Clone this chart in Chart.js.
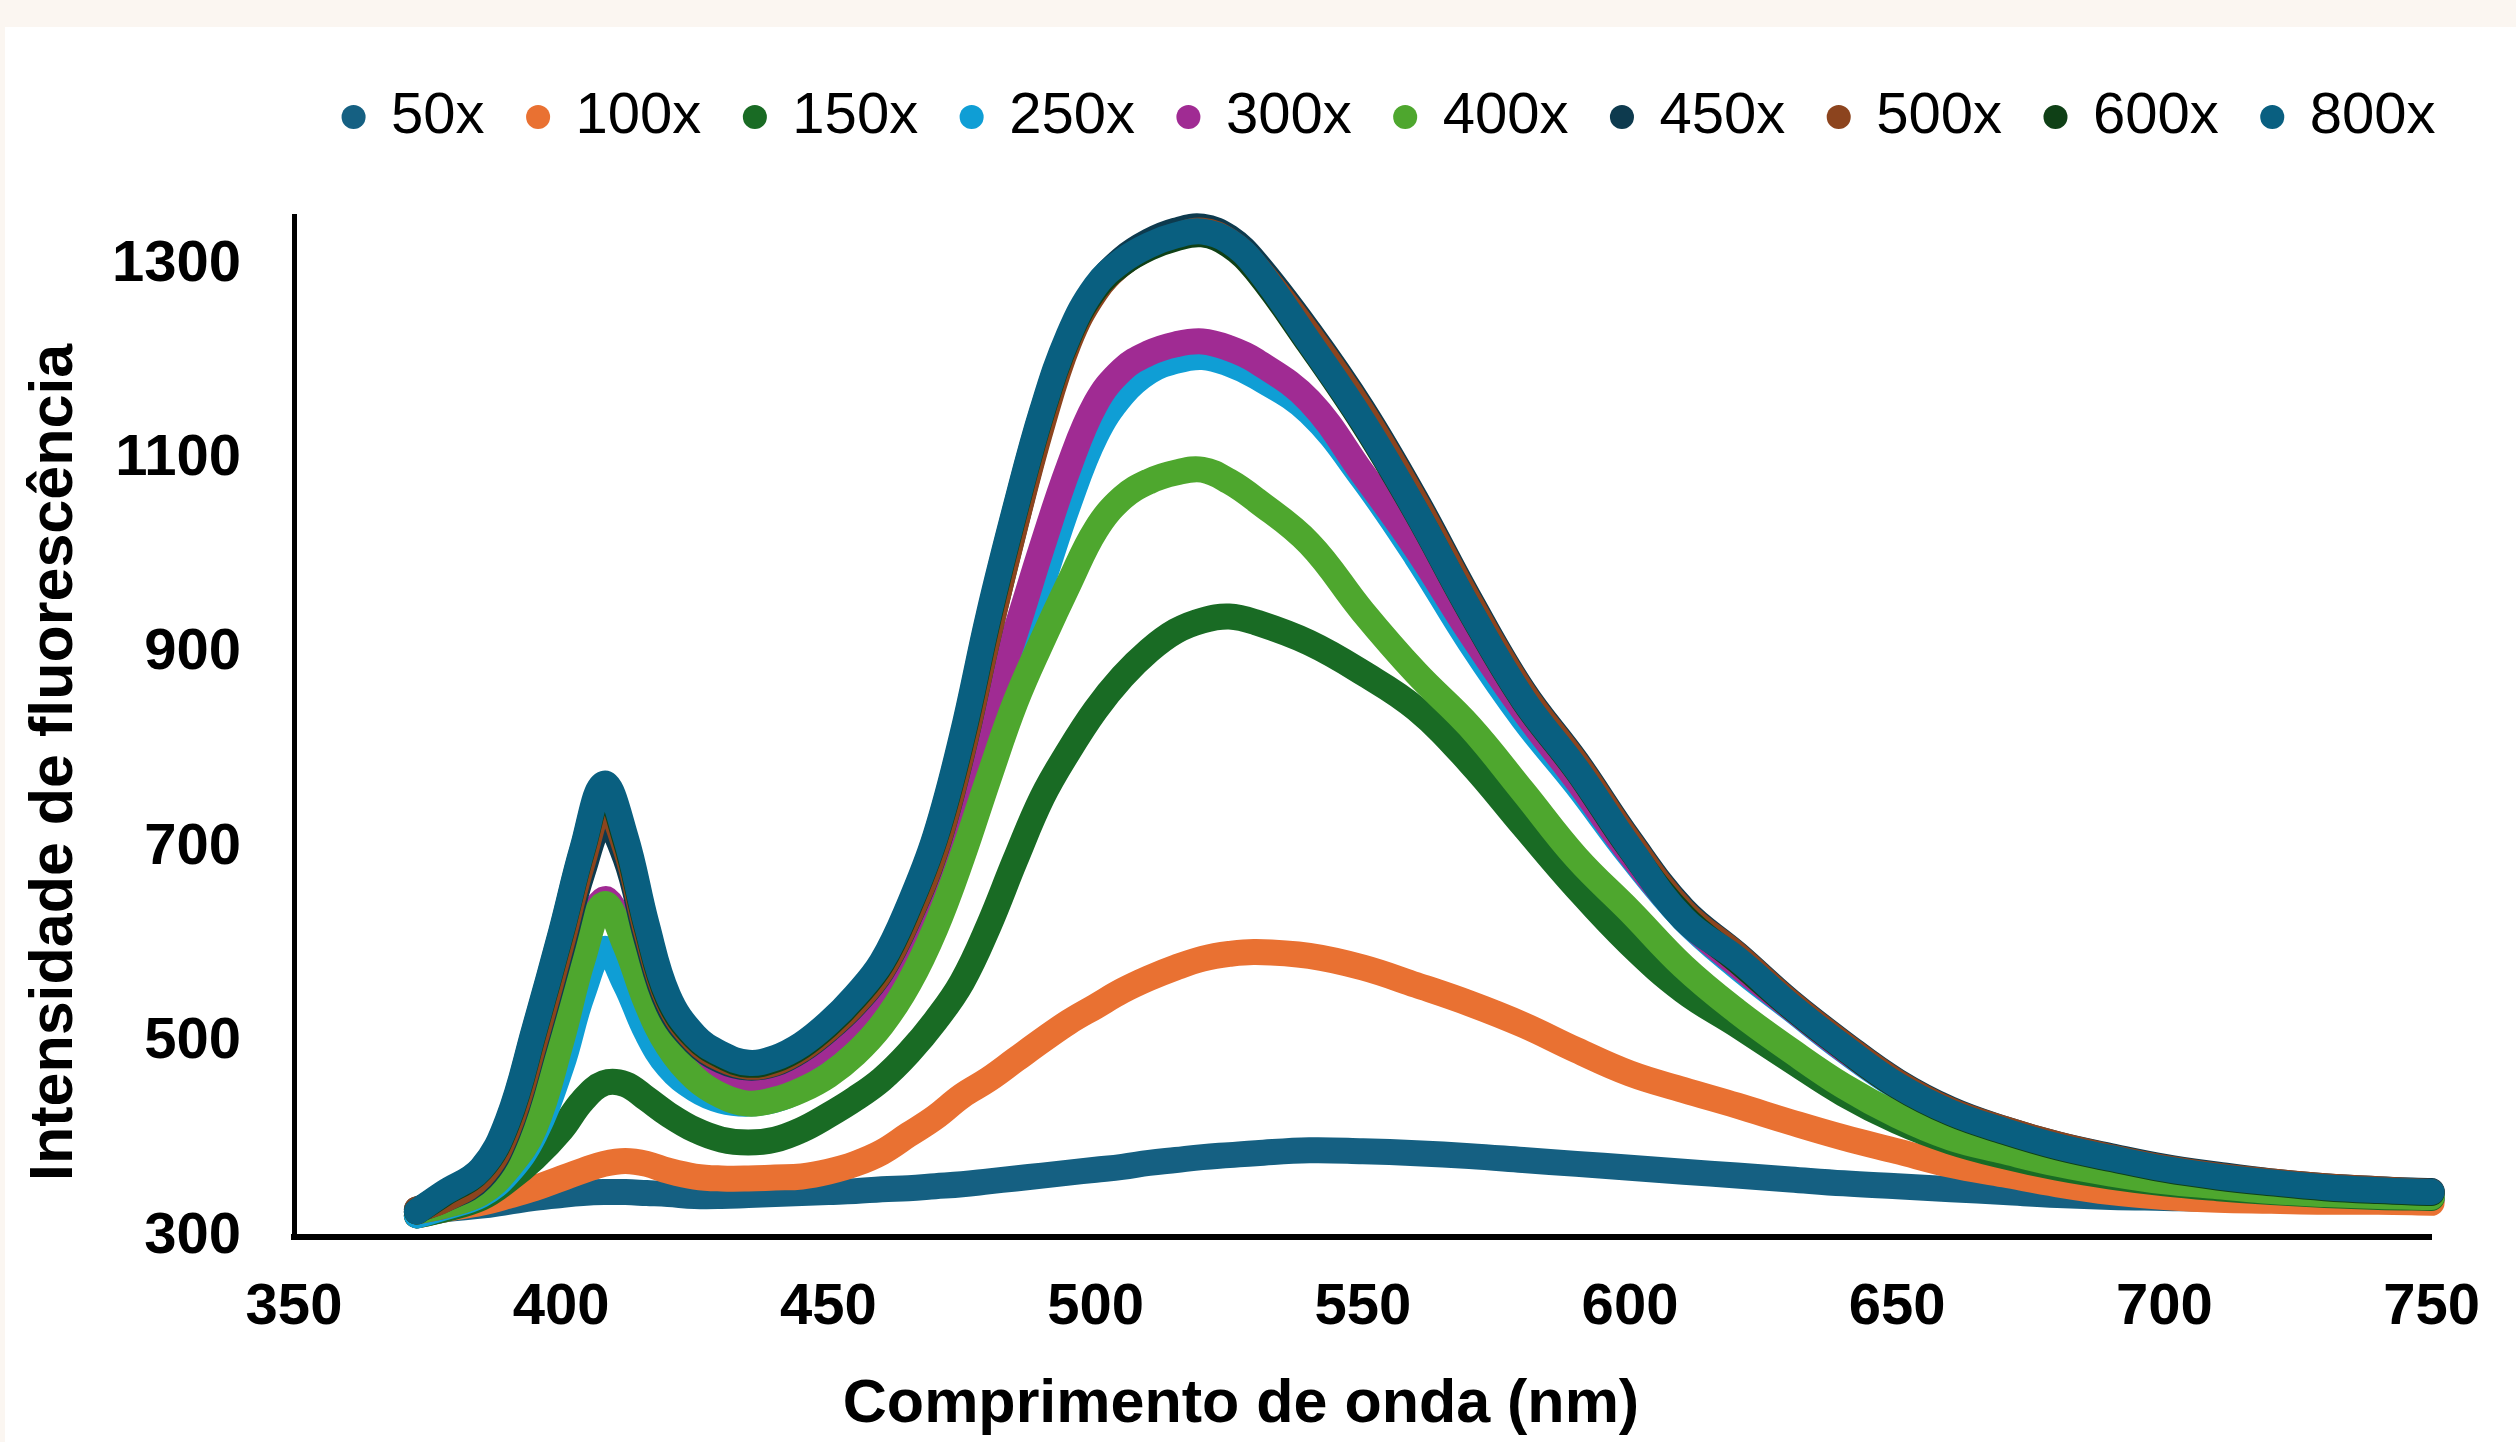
<!DOCTYPE html>
<html>
<head>
<meta charset="utf-8">
<script src="https://cdn.jsdelivr.net/npm/chart.js@4/dist/chart.umd.min.js"></script>
<style>
  html, body { margin: 0; padding: 0; background: #FBF6F1; }
  #box { position: absolute; left: 5px; top: 27px; width: 2511px; height: 1415px; background: #fff; }
</style>
</head>
<body>
<div id="box"><canvas id="chart" width="2511" height="1415"></canvas></div>
<script>
// wavelengths (nm) shared by all series
const wavelengths = [373, 378, 385, 390, 395, 400, 404, 408, 412, 416, 420, 425, 430, 435, 440, 445, 450, 455, 460, 465,
  470, 475, 480, 485, 490, 495, 500, 505, 510, 515, 520, 525, 530, 540, 550, 560, 570, 580, 590, 600,
  610, 620, 630, 640, 650, 660, 670, 680, 690, 700, 710, 720, 730, 740, 750];

// series names, legend order
const seriesNames = ["50x", "100x", "150x", "250x", "300x", "400x", "450x", "500x", "600x", "800x"];
const seriesColors = ["#156082", "#E97132", "#196B24", "#0F9ED5", "#A02B93", "#4EA72E", "#0D3A4E", "#8C441E", "#0F4016", "#095F80"];

// fluorescence intensity
const s50 = [322, 328, 332, 336, 340, 343, 345, 346, 346, 345, 344, 342, 342, 343, 344, 345, 346, 347, 349, 350,
  352, 354, 357, 360, 363, 366, 369, 372, 376, 379, 382, 384, 386, 389, 388, 386, 383, 379, 375, 371,
  367, 363, 359, 355, 352, 349, 346, 343, 341, 340, 339, 339, 338, 338, 338];
const s100 = [322, 328, 335, 342, 350, 360, 368, 375, 378, 375, 368, 362, 360, 360, 361, 362, 367, 375, 387, 405,
  423, 445, 462, 482, 502, 521, 537, 553, 566, 577, 586, 591, 593, 589, 577, 559, 540, 518, 492, 468,
  451, 435, 418, 402, 388, 374, 364, 354, 346, 341, 338, 337, 336, 336, 335];
const s150 = [322, 328, 340, 358, 381, 410, 440, 458, 457, 442, 426, 410, 400, 397, 400, 410, 425, 442, 462, 489,
  522, 562, 620, 688, 752, 800, 842, 876, 903, 923, 934, 938, 932, 911, 880, 843, 788, 723, 659, 601,
  553, 518, 482, 447, 419, 398, 383, 371, 362, 355, 350, 346, 343, 341, 340];
const s250 = [322, 330, 343, 365, 405, 475, 550, 596, 560, 510, 475, 452, 440, 437, 441, 452, 468, 492, 525, 572,
  635, 712, 800, 888, 972, 1055, 1124, 1166, 1190, 1201, 1205, 1198, 1185, 1148, 1080, 1000, 912, 833, 765, 692,
  627, 578, 535, 492, 454, 426, 407, 391, 379, 368, 360, 354, 349, 346, 344];
const s300 = [326, 332, 346, 372, 415, 505, 590, 647, 610, 550, 510, 482, 467, 463, 468, 480, 499, 525, 558, 612,
  680, 758, 840, 922, 1010, 1092, 1157, 1192, 1209, 1218, 1221, 1214, 1201, 1160, 1085, 1008, 922, 842, 770, 694,
  628, 580, 536, 493, 455, 427, 408, 392, 380, 369, 361, 355, 350, 347, 345];
const s400 = [326, 332, 345, 370, 412, 501, 585, 642, 600, 540, 496, 463, 445, 437, 441, 451, 466, 488, 518, 560,
  617, 690, 772, 850, 913, 972, 1027, 1060, 1077, 1086, 1089, 1077, 1058, 1013, 943, 880, 825, 758, 690, 635,
  578, 532, 492, 455, 425, 402, 388, 375, 365, 357, 352, 347, 344, 342, 341];
const s450 = [328, 338, 360, 407, 496, 594, 675, 727, 690, 606, 538, 500, 481, 474, 478, 492, 513, 539, 573, 627,
  696, 797, 920, 1033, 1138, 1224, 1276, 1306, 1324, 1335, 1339, 1328, 1302, 1231, 1151, 1058, 956, 862, 789, 708,
  637, 591, 542, 499, 460, 431, 411, 395, 383, 372, 364, 357, 352, 349, 347];
const s500 = [328, 338, 362, 410, 500, 600, 685, 745, 700, 612, 542, 502, 483, 475, 479, 493, 514, 540, 574, 628,
  697, 798, 920, 1032, 1135, 1220, 1272, 1301, 1318, 1329, 1335, 1324, 1298, 1228, 1148, 1055, 953, 860, 787, 706,
  635, 590, 541, 498, 459, 430, 411, 395, 382, 371, 363, 357, 352, 349, 346];
const s600 = [326, 344, 369, 418, 512, 612, 698, 762, 708, 618, 545, 505, 486, 477, 482, 496, 518, 546, 581, 638,
  710, 812, 937, 1048, 1148, 1226, 1275, 1301, 1317, 1327, 1331, 1320, 1294, 1218, 1137, 1045, 944, 852, 780, 699,
  630, 584, 537, 494, 455, 427, 408, 392, 380, 369, 361, 355, 350, 347, 345];
const s800 = [326, 345, 370, 420, 514, 614, 700, 766, 712, 621, 548, 507, 488, 479, 484, 498, 520, 548, 583, 640,
  712, 815, 940, 1050, 1150, 1228, 1278, 1304, 1320, 1330, 1334, 1324, 1298, 1220, 1139, 1046, 945, 853, 781, 700,
  627, 586, 538, 495, 456, 428, 409, 393, 381, 370, 362, 356, 351, 348, 346];

const seriesValues = [s50, s100, s150, s250, s300, s400, s450, s500, s600, s800];

// y ticks to show
const yTicks = [300, 500, 700, 900, 1100, 1300];

Chart.defaults.font.family = "'Liberation Sans', Arial, sans-serif";
Chart.defaults.color = "#000";

const datasets = seriesNames.map((name, k) => ({
  label: name,
  data: wavelengths.map((w, i) => ({ x: w, y: seriesValues[k][i] })),
  borderColor: seriesColors[k],
  backgroundColor: seriesColors[k],
  borderWidth: 26,
  borderCapStyle: "round",
  borderJoinStyle: "round",
  tension: 0.4,
  pointRadius: 0,
  pointHoverRadius: 0,
  clip: false,
  //later series painted on top, like the spreadsheet
  order: seriesNames.length - k,
}));

//legend on one row with room below it, titles nudged like the original
const layoutTweak = {
  id: "layoutTweak",
  beforeInit(chart) {
    if (!chart.legend) return;
    const fit = chart.legend.fit;
    chart.legend.fit = function () {
      const mw = this.maxWidth;
      this.maxWidth = mw + 150;
      fit.call(this);
      this.maxWidth = mw;
      this.width = mw;
      this.height += 60;
    };
  },
  afterLayout(chart) {
    if (chart.legend) {
      chart.legend.left += 5;
      chart.legend.right += 50;
    }
    if (chart.titleBlock) chart.titleBlock.left += 21;
    const y = chart.scales.y;
    if (y && !y._titleShifted) {
      const drawTitle = y.drawTitle;
      y.drawTitle = function () {
        this.ctx.save();
        this.ctx.translate(0, 36);
        drawTitle.call(this);
        this.ctx.restore();
      };
      y._titleShifted = true;
    }
  },
};

new Chart(document.getElementById("chart"), {
  type: "line",
  data: { datasets: datasets },
  plugins: [layoutTweak],
  options: {
    responsive: false,
    devicePixelRatio: 1,
    animation: false,
    layout: { padding: { left: 0, right: 60, top: 16, bottom: 0 } },
    plugins: {
      tooltip: { enabled: false },
      legend: {
        position: "top",
        fullSize: false,
        labels: {
          usePointStyle: true,
          pointStyle: "circle",
          boxWidth: 17,
          boxHeight: 17,
          padding: 45,
          color: "#000",
          font: { size: 58 },
          sort: (a, b) => a.datasetIndex - b.datasetIndex,
          generateLabels(chart) {
            const items = Chart.defaults.plugins.legend.labels.generateLabels(chart);
            items.forEach((it) => { it.lineWidth = 0; });
            return items;
          },
        },
      },
      title: {
        display: true,
        position: "bottom",
        text: "Comprimento de onda (nm)",
        color: "#000",
        font: { size: 61, weight: "bold" },
        padding: { top: 0, bottom: 0 },
      },
    },
    scales: {
      x: {
        type: "linear",
        min: 350,
        max: 750,
        grid: { display: false, drawTicks: false },
        border: { display: true, color: "#000", width: 6 },
        ticks: { stepSize: 50, padding: 36, color: "#000", font: { size: 58, weight: "bold" }, callback: (v) => String(v) },
        afterFit: (s) => { s.height = 132; },
      },
      y: {
        type: "linear",
        min: 300,
        max: 1350,
        grid: { display: false, drawTicks: false },
        border: { display: true, color: "#000", width: 5 },
        ticks: { stepSize: 200, padding: 53, color: "#000", font: { size: 58, weight: "bold" }, callback: (v) => String(v) },
        afterBuildTicks: (s) => { s.ticks = yTicks.map((v) => ({ value: v })); },
        afterFit: (s) => { s.width = 289; },
        title: {
          display: true,
          text: "Intensidade de fluorescência",
          color: "#000",
          font: { size: 61, weight: "bold" },
          padding: { top: 14, bottom: 0 },
        },
      },
    },
  },
});
</script>
</body>
</html>
